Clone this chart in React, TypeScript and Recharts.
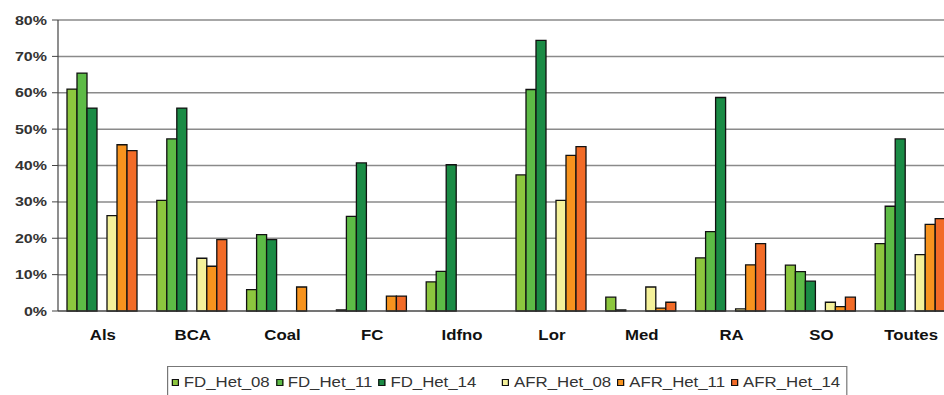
import { Bar, BarChart, CartesianGrid, XAxis, YAxis } from 'recharts';

const categories = ['Als', 'BCA', 'Coal', 'FC', 'Idfno', 'Lor', 'Med', 'RA', 'SO', 'Toutes'];

const fdHet08 = [61.0, 30.4, 5.9, 0.3, 8.0, 37.4, 3.8, 14.6, 12.6, 18.5];
const fdHet11 = [65.4, 47.3, 21.0, 26.0, 10.9, 60.9, 0.3, 21.8, 10.8, 28.8];
const fdHet14 = [55.8, 55.8, 19.6, 40.7, 40.2, 74.4, null, 58.7, 8.2, 47.3];
const afrHet08 = [26.2, 14.5, null, null, null, 30.4, 6.6, 0.6, 2.4, 15.5];
const afrHet11 = [45.7, 12.3, 6.6, 4.1, null, 42.8, 0.8, 12.7, 1.2, 23.8];
const afrHet14 = [44.1, 19.6, null, 4.1, null, 45.2, 2.4, 18.5, 3.8, 25.4];

const yTicks = [0, 10, 20, 30, 40, 50, 60, 70, 80];
const boundaryTicks = [1, 2, 3, 4, 5, 6, 7, 8, 9];

const series = [
  { key: 'fd08', name: 'FD_Het_08', color: '#8cc63e' },
  { key: 'fd11', name: 'FD_Het_11', color: '#5dbb46' },
  { key: 'fd14', name: 'FD_Het_14', color: '#1a8b45' },
  { key: 'gap', name: '', color: 'none' },
  { key: 'afr08', name: 'AFR_Het_08', color: '#f4f19a' },
  { key: 'afr11', name: 'AFR_Het_11', color: '#f7931e' },
  { key: 'afr14', name: 'AFR_Het_14', color: '#f26b27' },
];

const data = categories.map((name, i) => ({
  name,
  fd08: fdHet08[i],
  fd11: fdHet11[i],
  fd14: fdHet14[i],
  afr08: afrHet08[i],
  afr11: afrHet11[i],
  afr14: afrHet14[i],
}));

const FONT = '"Liberation Sans", Arial, sans-serif';

function YTick({ x, y, payload }: any) {
  return (
    <text
      transform={`translate(${x},${y}) scale(1.28,1)`}
      textAnchor="end"
      dy="0.36em"
      fontSize={12.5}
      fontWeight="bold"
      fill="#333"
      fontFamily={FONT}
    >
      {payload.value}%
    </text>
  );
}

function XTick({ x, y, payload }: any) {
  return (
    <text
      transform={`translate(${x},${y + 29}) scale(1.2,1)`}
      textAnchor="middle"
      fontSize={14}
      fontWeight="bold"
      fill="#111"
      fontFamily={FONT}
    >
      {payload.value}
    </text>
  );
}

export default function App() {
  return (
    <div
      style={{
        position: 'fixed',
        left: 0,
        top: 0,
        width: 944,
        height: 395,
        overflow: 'hidden',
        background: '#fff',
        fontFamily: FONT,
      }}
    >
      <BarChart
        width={962}
        height={395}
        data={data}
        margin={{ top: 20, right: 6, left: 0, bottom: 44 }}
        barGap={0}
        barCategoryGap={9}
      >
        <CartesianGrid horizontal vertical={false} stroke="#8a8a8a" strokeWidth={1.5} />
        <XAxis
          xAxisId="bnd"
          type="number"
          domain={[0, 10]}
          ticks={boundaryTicks}
          height={0}
          axisLine={false}
          tick={false}
          tickLine={{ stroke: '#555' }}
          tickSize={4}
        />
        <XAxis
          dataKey="name"
          height={40}
          axisLine={{ stroke: '#444', strokeWidth: 1.2 }}
          tickLine={false}
          tickSize={0}
          tickMargin={0}
          tick={<XTick />}
          interval={0}
        />
        <YAxis
          width={58}
          domain={[0, 80]}
          ticks={yTicks}
          interval={0}
          axisLine={{ stroke: '#444', strokeWidth: 1.2 }}
          tickLine={{ stroke: '#444' }}
          tickSize={6}
          tickMargin={5}
          tick={<YTick />}
        />
        {series.map((s) => (
          <Bar
            key={s.key}
            dataKey={s.key}
            fill={s.color}
            stroke="#111"
            strokeWidth={1.3}
            isAnimationActive={false}
          />
        ))}
      </BarChart>

      {/* legend is horizontally stretched like the rest of the source image */}
      <div
        style={{
          position: 'absolute',
          left: 167,
          top: 366,
          width: 567,
          height: 40,
          border: '1px solid #777',
          background: '#fff',
          display: 'flex',
          alignItems: 'flex-start',
          paddingTop: 6,
          paddingLeft: 3,
          boxSizing: 'border-box',
          fontSize: 14,
          color: '#333',
          transform: 'scaleX(1.2)',
          transformOrigin: '0 0',
        }}
      >
        {series.map((s) =>
          s.name ? (
            <span
              key={s.key}
              style={{ display: 'flex', alignItems: 'center', marginRight: 5, lineHeight: '18px' }}
            >
              <i
                style={{
                  display: 'inline-block',
                  boxSizing: 'border-box',
                  width: 6,
                  height: 7,
                  background: s.color,
                  border: '1px solid #111',
                  marginRight: 4,
                }}
              />
              {s.name}
            </span>
          ) : (
            <span key={s.key} style={{ width: 36 }} />
          ),
        )}
      </div>
    </div>
  );
}
